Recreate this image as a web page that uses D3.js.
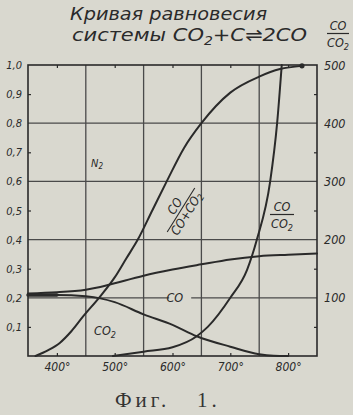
<!DOCTYPE html>
<html><head><meta charset="utf-8">
<script src="https://cdn.jsdelivr.net/npm/d3@7"></script>
<style>
html,body{margin:0;padding:0;background:#d9d8cf;}
svg{display:block;}
.lab{font-family:"DejaVu Sans Condensed","DejaVu Sans",sans-serif;font-style:oblique;fill:#2a2a2a;}
</style></head>
<body>
<svg id="c" width="353" height="415"></svg>
<script>
// ---- data ----
const xTickTemps = [400, 500, 600, 700, 800];
const xTickLabels = ["400°", "500°", "600°", "700°", "800°"];
const leftTicks = [0.1, 0.2, 0.3, 0.4, 0.5, 0.6, 0.7, 0.8, 0.9, 1.0];
const rightTicks = [100, 200, 300, 400, 500];
const gridTemps = [450, 550, 650, 750];
const gridVals = [0.2, 0.4, 0.6, 0.8];
const minorVals = [0.1, 0.3, 0.5, 0.7, 0.9];

// CO/(CO+CO2), left axis
const fracTemp = [363, 385, 405, 425, 445, 475, 500, 520, 540, 565, 590, 620, 650, 700, 750, 786, 824];
const fracVal  = [0.0, 0.02, 0.045, 0.085, 0.135, 0.205, 0.27, 0.335, 0.4, 0.5, 0.6, 0.715, 0.8, 0.905, 0.96, 0.986, 0.997];
// CO/CO2, right axis
const ratioTemp = [497, 550, 600, 642, 661, 700, 729, 746, 769, 781, 789];
const ratioVal  = [0, 7.5, 15, 34, 50, 100, 148, 200, 300, 400, 500];
// rising curve (CO), left axis
const coTemp = [350, 400, 450, 475, 500, 550, 600, 650, 700, 750, 800, 850];
const coVal  = [0.215, 0.219, 0.228, 0.237, 0.25, 0.276, 0.297, 0.315, 0.332, 0.343, 0.348, 0.352];
// falling curve (CO2), left axis
const co2Temp = [350, 400, 450, 475, 500, 550, 600, 642, 700, 750, 775, 800];
const co2Val  = [0.21, 0.21, 0.205, 0.198, 0.185, 0.143, 0.107, 0.068, 0.032, 0.006, 0.001, 0.0];

// ---- layout ----
const L = 28, R = 317, T = 65, B = 356;
const ink = "#2a2a2a", paper = "#d9d8cf";
const svg = d3.select("#c");
svg.append("rect").attr("width",353).attr("height",415).attr("fill",paper);

const x = d3.scaleLinear().domain([350, 850]).range([L, R]);
const y = d3.scaleLinear().domain([0, 1]).range([B, T]);
const yR = d3.scaleLinear().domain([0, 500]).range([B, T]);

// grid
const g = svg.append("g");
g.selectAll(".gv").data(gridTemps).join("line")
  .attr("x1", d=>x(d)).attr("x2", d=>x(d)).attr("y1", T).attr("y2", B)
  .attr("stroke", "#4a4a4a").attr("stroke-width", 1.3);
g.selectAll(".gh").data(gridVals).join("line")
  .attr("x1", L).attr("x2", R).attr("y1", d=>y(d)).attr("y2", d=>y(d))
  .attr("stroke", "#4a4a4a").attr("stroke-width", 1.3);

// minor ticks inside frame
function styleTicks(sel){ sel.select(".domain").remove(); sel.selectAll("line").attr("stroke", ink).attr("stroke-width",1.2); }
svg.append("g").attr("transform",`translate(${L},0)`)
  .call(d3.axisRight(y).tickValues(minorVals).tickSize(3).tickFormat("")).call(styleTicks);
svg.append("g").attr("transform",`translate(${R},0)`)
  .call(d3.axisLeft(y).tickValues(minorVals).tickSize(3).tickFormat("")).call(styleTicks);
svg.append("g").attr("transform",`translate(0,${T})`)
  .call(d3.axisBottom(x).tickValues(xTickTemps).tickSize(3).tickFormat("")).call(styleTicks);
svg.append("g").attr("transform",`translate(0,${B})`)
  .call(d3.axisTop(x).tickValues(xTickTemps).tickSize(3).tickFormat("")).call(styleTicks);

// frame
svg.append("rect").attr("x",L).attr("y",T).attr("width",R-L).attr("height",B-T)
  .attr("fill","none").attr("stroke",ink).attr("stroke-width",1.6);

// axis labels
function styleLab(sel, size){
  sel.select(".domain").remove();
  sel.selectAll("text").attr("class","lab").attr("font-size",size).attr("fill",ink);
}
svg.append("g").attr("transform",`translate(${L},0)`)
  .call(d3.axisLeft(y).tickValues(leftTicks).tickSize(0).tickPadding(6)
    .tickFormat(d=>d3.format(".1f")(d).replace(".",",")))
  .call(s=>styleLab(s,11));
svg.append("g").attr("transform",`translate(${R},0)`)
  .call(d3.axisRight(yR).tickValues(rightTicks).tickSize(0).tickPadding(7).tickFormat(d=>String(d)))
  .call(s=>styleLab(s,12.5));
svg.append("g").attr("transform",`translate(0,${B})`)
  .call(d3.axisBottom(x).tickValues(xTickTemps).tickSize(0).tickPadding(6)
    .tickFormat((d,i)=>xTickLabels[i]))
  .call(s=>styleLab(s,12));

// curves
const lineL = d3.line().x(d=>x(d[0])).y(d=>y(d[1])).curve(d3.curveMonotoneX);
const lineR = d3.line().x(d=>x(d[0])).y(d=>yR(d[1])).curve(d3.curveMonotoneX);
const zip = (a,b)=>a.map((v,i)=>[v,b[i]]);
const curves = svg.append("g").attr("fill","none").attr("stroke",ink).attr("stroke-width",2)
  .attr("stroke-linecap","round");
curves.append("path").attr("d", lineL(zip(coTemp, coVal)));
curves.append("path").attr("d", lineL(zip(co2Temp, co2Val)));
curves.append("path").attr("d", lineL(zip(fracTemp, fracVal)));
curves.append("path").attr("d", lineR(zip(ratioTemp, ratioVal)));
// thick start of overlapping lines
curves.append("path").attr("d", lineL(zip(co2Temp.slice(0,2), co2Val.slice(0,2)))).attr("stroke-width",3.5);
svg.append("circle").attr("cx", x(fracTemp[fracTemp.length-1])).attr("cy", y(fracVal[fracVal.length-1]))
  .attr("r", 2.6).attr("fill", ink);

// title
const title = svg.append("g").attr("class","lab").attr("fill",ink);
title.append("text").attr("x",70).attr("y",20).attr("font-size",18)
  .attr("textLength",197).attr("lengthAdjust","spacingAndGlyphs").text("Кривая равновесия");
const t2 = title.append("text").attr("x",72).attr("y",41).attr("font-size",18)
  .attr("textLength",235).attr("lengthAdjust","spacingAndGlyphs");
t2.append("tspan").text("системы  CO");
t2.append("tspan").attr("font-size",12).attr("dy",4).text("2");
t2.append("tspan").attr("dy",-4).text("+C⇌2CO");

// right header CO/CO2
const hdr = svg.append("g").attr("class","lab").attr("fill",ink).attr("font-size",12.5);
hdr.append("text").attr("x",338).attr("y",30).attr("text-anchor","middle").text("CO");
hdr.append("line").attr("x1",327).attr("x2",349).attr("y1",33.5).attr("y2",33.5).attr("stroke",ink).attr("stroke-width",1.2);
const hd = hdr.append("text").attr("x",338).attr("y",47).attr("text-anchor","middle");
hd.append("tspan").text("CO"); hd.append("tspan").attr("font-size",9).attr("dy",3).text("2");

// curve labels
const labs = svg.append("g").attr("class","lab").attr("fill",ink);
labs.append("text").attr("x",97).attr("y",167).attr("text-anchor","middle").attr("font-size",11)
  .call(t=>{t.append("tspan").text("N"); t.append("tspan").attr("font-size",8).attr("dy",2).text("2");});
labs.append("rect").attr("x",x(596)-1).attr("y",y(0.2)-7).attr("width",22).attr("height",13).attr("fill",paper);
labs.append("text").attr("x",x(604)).attr("y",y(0.2)+4.5).attr("text-anchor","middle").attr("font-size",12.5).text("CO");
labs.append("text").attr("x",105).attr("y",335).attr("text-anchor","middle").attr("font-size",12.5)
  .call(t=>{t.append("tspan").text("CO"); t.append("tspan").attr("font-size",9).attr("dy",3).text("2");});
// CO/CO2 label near steep curve
const fr = labs.append("g").attr("transform",`translate(282,0)`).attr("font-size",12.5);
fr.append("text").attr("y",211).attr("text-anchor","middle").text("CO");
fr.append("line").attr("x1",-12).attr("x2",12).attr("y1",214.5).attr("y2",214.5).attr("stroke",ink).attr("stroke-width",1.2);
fr.append("text").attr("y",228).attr("text-anchor","middle")
  .call(t=>{t.append("tspan").text("CO"); t.append("tspan").attr("font-size",9).attr("dy",3).text("2");});
// rotated CO/(CO+CO2)
const rf = labs.append("g").attr("transform",`translate(181,210) rotate(-58)`).attr("font-size",12.5);
rf.append("text").attr("y",-3).attr("text-anchor","middle").text("CO");
rf.append("line").attr("x1",-26).attr("x2",26).attr("y1",0).attr("y2",0).attr("stroke",ink).attr("stroke-width",1.1);
rf.append("text").attr("y",11).attr("text-anchor","middle")
  .call(t=>{t.append("tspan").text("CO+CO"); t.append("tspan").attr("font-size",9).attr("dy",2).text("2");});

// caption
const cap = svg.append("g").attr("font-family","'Liberation Serif',serif").attr("font-size",21).attr("fill","#333");
cap.append("text").attr("x",115).attr("y",407).attr("letter-spacing",4).text("Фиг.");
cap.append("text").attr("x",197).attr("y",407).attr("letter-spacing",4).text("1.");
</script>
</body></html>
